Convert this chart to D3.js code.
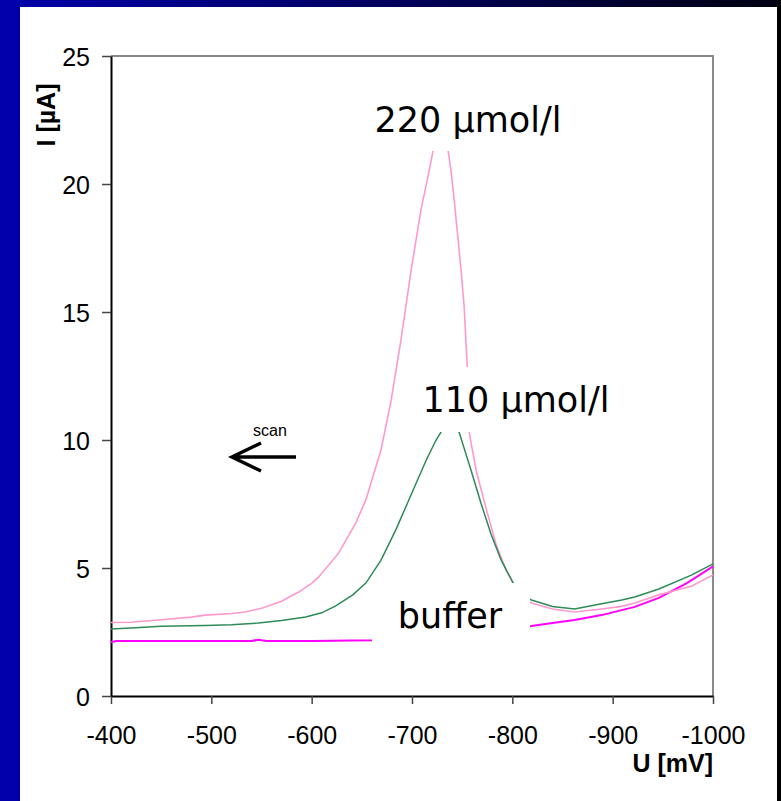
<!DOCTYPE html>
<html>
<head>
<meta charset="utf-8">
<script src="https://cdn.jsdelivr.net/npm/d3@7"></script>
<style>
body { margin: 0; background: #fff; overflow: hidden; }
svg { display: block; }
</style>
</head>
<body>
<div id="graph1"></div>
<script>
// potential U [mV] and current I [uA]
var u220 = [-400,-420,-450,-480,-494,-520,-534,-551,-570,-587,-600,-607,-627,-644,-654,-669,-679,-689,-699,-709,-717,-721,-729,-736,-739,-742,-746,-749,-752,-755,-757,-764,-774,-784,-794,-801,-810,-819,-840,-862,-889,-909,-922,-946,-979,-1000];
var i220 = [2.87,2.88,2.98,3.08,3.16,3.22,3.28,3.44,3.70,4.06,4.40,4.65,5.59,6.76,7.66,9.6,11.5,13.9,16.6,19.0,20.5,21.3,22.8,21.3,20.5,19.4,17.8,16.6,15.2,12.9,10.3,8.8,7.3,5.9,4.9,4.4,3.9,3.63,3.40,3.28,3.40,3.50,3.63,3.95,4.30,4.73];

var u110 = [-400,-420,-450,-494,-520,-547,-570,-594,-610,-624,-641,-654,-669,-684,-699,-714,-724,-732,-740,-747,-759,-769,-779,-789,-801,-810,-819,-840,-862,-889,-909,-922,-946,-979,-1000];
var i110 = [2.62,2.66,2.72,2.75,2.78,2.85,2.95,3.09,3.25,3.52,3.95,4.41,5.3,6.5,7.85,9.2,10.0,10.5,10.6,10.3,8.8,7.5,6.3,5.3,4.4,3.95,3.75,3.5,3.4,3.6,3.75,3.87,4.18,4.73,5.16];

var uBuf = [-400,-405,-450,-540,-547,-555,-600,-640,-660,-740,-819,-840,-862,-889,-922,-946,-974,-1000];
var iBuf = [2.10,2.15,2.15,2.15,2.2,2.15,2.15,2.17,2.18,2.45,2.73,2.85,2.97,3.16,3.48,3.83,4.41,5.06];

var xTicks = [-400,-500,-600,-700,-800,-900,-1000];
var yTicks = [0,5,10,15,20,25];

const width = 781;
const height = 801;
const padding = {top: 56, left: 111, right: 69, bottom: 105};

let graph = d3.select("#graph1")
	.append("svg")
	.attr("width", width)
	.attr("height", height);

let grad = graph.append("defs").append("linearGradient")
	.attr("id", "topbar");
grad.append("stop").attr("offset", "0%").attr("stop-color", "#0000aa");
grad.append("stop").attr("offset", "100%").attr("stop-color", "#000010");

graph.append("rect").attr("width", width).attr("height", height).attr("fill", "#fff");
graph.append("rect").attr("width", width).attr("height", 7).attr("fill", "url(#topbar)");
graph.append("rect").attr("width", 20).attr("height", height).attr("fill", "#0000aa");
graph.append("rect").attr("x", 777).attr("width", 4).attr("height", height).attr("fill", "#000");

let xScale = d3.scaleLinear()
	.domain([-400, -1000])
	.range([padding.left, width - padding.right + 1]);

let yScale = d3.scaleLinear()
	.domain([0, 25])
	.range([height - padding.bottom, padding.top]);

// plot frame (grey top and right)
graph.append("path")
	.attr("d", `M${xScale(-400)},${yScale(25)}H${xScale(-1000)}V${yScale(0)}`)
	.attr("fill", "none")
	.attr("stroke", "#8a8a8a")
	.attr("stroke-width", 2);

let xAxis = d3.axisBottom(xScale)
	.tickValues(xTicks)
	.tickFormat(d => String(d))
	.tickSize(8)
	.tickSizeOuter(0)
	.tickPadding(22);

let yAxis = d3.axisLeft(yScale)
	.tickValues(yTicks)
	.tickFormat(d => String(d))
	.tickSize(9)
	.tickSizeOuter(0)
	.tickPadding(12);

let gx = graph.append("g")
	.attr("transform", `translate(0, ${yScale(0)})`)
	.call(xAxis);
let gy = graph.append("g")
	.attr("transform", `translate(${xScale(-400)}, 0)`)
	.call(yAxis);

[gx, gy].forEach(function(g) {
	g.select(".domain").attr("stroke", "#000").attr("stroke-width", 2);
	g.selectAll(".tick line").attr("stroke", "#444").attr("stroke-width", 1.5);
	g.selectAll("text")
		.attr("fill", "#000")
		.style("font-family", "Liberation Sans, Arial, sans-serif")
		.style("font-size", "25px");
});
gy.selectAll("text").attr("dy", "0.36em");

let line = d3.line()
	.x(d => xScale(d[0]))
	.y(d => yScale(d[1]));

let series = [
	{u: uBuf, i: iBuf, color: "#ff00ff", w: 2},
	{u: u220, i: i220, color: "#ff99cc", w: 1.6},
	{u: u110, i: i110, color: "#2e8b57", w: 1.5}
];

series.forEach(function(s) {
	graph.append("path")
		.datum(s.u.map((v, k) => [v, s.i[k]]))
		.attr("d", line)
		.attr("fill", "none")
		.attr("stroke", s.color)
		.attr("stroke-width", s.w);
});

// labels sit on white boxes that hide the curves behind them
let labels = [
	{text: "220 \u00b5mol/l", x: 468, y: 132, box: [365, 95, 207, 56]},
	{text: "110 \u00b5mol/l", x: 516, y: 412, box: [420, 367, 195, 65]},
	{text: "buffer", x: 450, y: 628, box: [372, 583, 158, 67]}
];

labels.forEach(function(l) {
	graph.append("rect")
		.attr("x", l.box[0]).attr("y", l.box[1])
		.attr("width", l.box[2]).attr("height", l.box[3])
		.attr("fill", "#fff");
	graph.append("text")
		.attr("x", l.x)
		.attr("y", l.y)
		.attr("text-anchor", "middle")
		.style("font-family", "'Comic Sans MS', 'DejaVu Sans', sans-serif")
		.style("font-size", "35px")
		.text(l.text);
});

// scan arrow
graph.append("path")
	.attr("d", "M296,457H232M261,443L232,457L261,471")
	.attr("fill", "none")
	.attr("stroke", "#000")
	.attr("stroke-width", 3.5);

graph.append("text")
	.attr("x", 270)
	.attr("y", 436)
	.attr("text-anchor", "middle")
	.style("font-family", "Liberation Sans, Arial, sans-serif")
	.style("font-size", "16px")
	.text("scan");

graph.append("text")
	.attr("x", xScale(-1000))
	.attr("y", 772)
	.attr("text-anchor", "end")
	.style("font-family", "Liberation Sans, Arial, sans-serif")
	.style("font-size", "25px")
	.style("font-weight", "bold")
	.text("U [mV]");

graph.append("text")
	.attr("transform", "translate(55,115) rotate(-90)")
	.attr("text-anchor", "middle")
	.style("font-family", "Liberation Sans, Arial, sans-serif")
	.style("font-size", "25px")
	.style("font-weight", "bold")
	.text("I [\u00b5A]");
</script>
</body>
</html>
